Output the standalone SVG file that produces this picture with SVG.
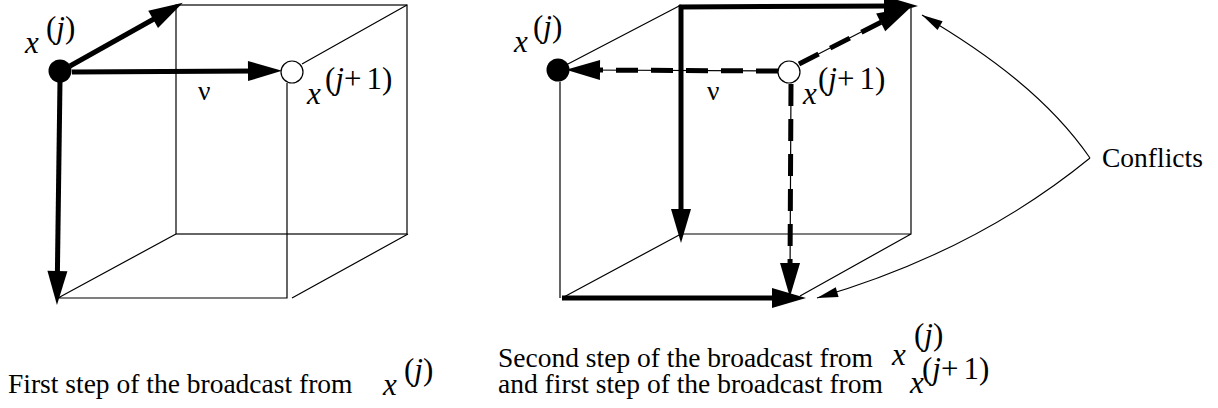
<svg xmlns="http://www.w3.org/2000/svg" width="1218" height="408" viewBox="0 0 1218 408">
<style>
.thin{fill:none;stroke:#000;stroke-width:1.2}
.thick{fill:none;stroke:#000;stroke-width:5;marker-end:url(#big)}
.dash{fill:none;stroke:#000;stroke-width:5;stroke-dasharray:22 13;marker-end:url(#big)}
.lead{fill:none;stroke:#000;stroke-width:1.1;marker-end:url(#small)}
text{font-family:"Liberation Serif","Times New Roman",serif;fill:#000}
.t{font-size:27.5px}
.m{font-size:31px}
.i{font-style:italic}
.dot{fill:#000}
.ring{fill:#fff;stroke:#000;stroke-width:1.2}
</style>
<defs>
<marker id="big" markerUnits="userSpaceOnUse" markerWidth="36" markerHeight="22" refX="9" refY="10" orient="auto" overflow="visible">
<path d="M0,0 L34,10 L0,20 Z" fill="#000"/>
</marker>
<marker id="small" markerUnits="userSpaceOnUse" markerWidth="22" markerHeight="12" refX="21" refY="5" orient="auto" overflow="visible">
<path d="M0,0 L21,5 L0,10 Z" fill="#000"/>
</marker>
</defs>

<g id="cube-left">
<rect class="thin" x="176" y="5" width="231" height="229"/>
<path class="thin" d="M287,83 L287,298 L58,298 M302,64 L407,5 M58,298 L176,234 M292,298 L408,234"/>
</g>

<g id="cube-right">
<path class="thin" d="M681,234 L911,234 L911,8 M560,82 L560,298 M566,65 L681,5 M562,298 L681,234 M800,296 L911,234"/>
<path class="thin" d="M778,71 L580,70 M791,84 L790,280 M799,64 L900,12"/>
</g>

<g id="connectors">
<path class="thick" d="M70,66 L161,15"/>
<path class="thick" d="M72,72 L257,71"/>
<path class="thick" d="M60,80 L57.3,280"/>
<path class="thick" d="M679,7 L893,6"/>
<path class="thick" d="M681,5 L681,218"/>
<path class="thick" d="M562,298 L781,298"/>
<path class="dash" d="M778,71 L591,70"/>
<path class="dash" d="M791,84 L790,272"/>
<path class="dash" d="M799,64 L888.7,18.3"/>
<path class="lead" d="M1090,158 C1050,100 990,55 922,15"/>
<path class="lead" d="M1090,158 Q975,252 817,298"/>
</g>

<g id="node-xj-left">
<circle class="dot" cx="60" cy="71" r="11.5"/>
<text class="m i" x="25" y="53">x</text>
<text class="m" x="46" y="38">(<tspan class="i">j</tspan>)</text>
</g>
<g id="node-xj1-left">
<circle class="ring" cx="292" cy="72" r="11"/>
<text class="m i" x="307" y="104">x</text>
<text class="m" x="325" y="89">(<tspan class="i">j</tspan>+<tspan dx="5">1</tspan>)</text>
</g>
<text class="t" x="198" y="100">ν</text>

<g id="node-xj-right">
<circle class="dot" cx="558" cy="70" r="11.5"/>
<text class="m i" x="514" y="52">x</text>
<text class="m" x="533" y="37">(<tspan class="i">j</tspan>)</text>
</g>
<g id="node-xj1-right">
<circle class="ring" cx="789" cy="72" r="11"/>
<text class="m i" x="803" y="104">x</text>
<text class="m" x="818" y="89">(<tspan class="i">j</tspan>+<tspan dx="5">1</tspan>)</text>
</g>
<text class="t" x="707" y="100">ν</text>

<g id="label-conflicts">
<text class="t" x="1102" y="167">Conflicts</text>
</g>

<g id="caption-left">
<text class="t" x="8" y="393">First step of the broadcast from</text>
<text class="m i" x="383" y="395">x</text>
<text class="m" x="404" y="380">(<tspan class="i">j</tspan>)</text>
</g>

<g id="caption-right">
<text class="t"><tspan x="498" y="367">Second step of the broadcast from</tspan><tspan x="498" y="393">and first step of the broadcast from</tspan></text>
<text class="m i" x="892" y="365">x</text>
<text class="m" x="914" y="345">(<tspan class="i">j</tspan>)</text>
<text class="m i" x="910" y="393">x</text>
<text class="m" x="922" y="379">(<tspan class="i">j</tspan>+<tspan dx="5">1</tspan>)</text>
</g>
</svg>
